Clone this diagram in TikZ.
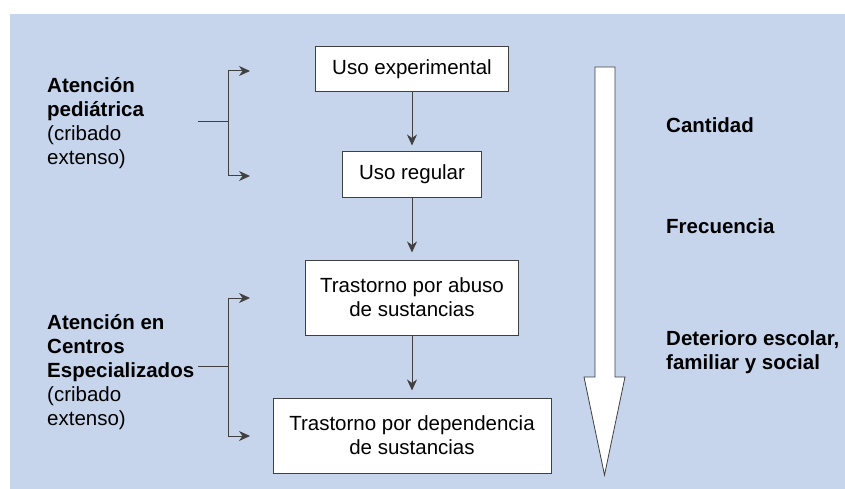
\documentclass[tikz,border=0pt]{standalone}
\usepackage{fontspec}
\setmainfont{Liberation Sans}
\usetikzlibrary{arrows.meta}
\definecolor{fondo}{HTML}{C6D4EC}
\definecolor{trazo}{HTML}{404040}

\begin{document}
\begin{tikzpicture}[x=1pt,y=-1pt]
\tikzstyle{caja}=[rectangle,draw=trazo,fill=white,line width=1pt,align=center,font=\fontsize{20.5}{24}\selectfont]
\tikzstyle{etiq}=[anchor=west,align=left,inner sep=0pt,font=\fontsize{20.5}{24}\selectfont]
\tikzstyle{flecha}=[draw=trazo,line width=1pt,-{Stealth[length=11pt,width=10pt,inset=3.5pt]}]
\useasboundingbox (0,0) rectangle (845,489);
\fill [fondo] (10,14) rectangle (845,489);
% etapas
\node [caja,minimum width=193pt,minimum height=45pt] (exp) at (412,69.5) {Uso experimental};
\node [caja,minimum width=139pt,minimum height=45pt] (reg) at (412,174.5) {Uso regular};
\node [caja,minimum width=213pt,minimum height=75pt] (abu) at (412,297.5) {Trastorno por abuso\\de sustancias};
\node [caja,minimum width=278pt,minimum height=75pt] (dep) at (412,435.5) {Trastorno por dependencia\\de sustancias};
\draw [flecha,shorten >=6pt] (exp) -- (reg);
\draw [flecha,shorten >=7pt] (reg) -- (abu);
\draw [flecha,shorten >=7pt] (abu) -- (dep);
% atencion
\node [etiq] (ped) at (47,123) {\textbf{Atención}\\\textbf{pediátrica}\\(cribado\\extenso)};
\node [etiq] (esp) at (47,372.5) {\textbf{Atención en}\\\textbf{Centros}\\\textbf{Especializados}\\(cribado\\extenso)};
\coordinate (b1) at (198,122);
\coordinate (v1) at (228,122);
\coordinate (t1a) at (250,71);
\coordinate (t1b) at (250,176);
\draw [trazo,line width=1pt] (b1) -- (v1);
\draw [flecha] (v1) |- (t1a);
\draw [flecha] (v1) |- (t1b);
\coordinate (b2) at (198,366);
\coordinate (v2) at (228,366);
\coordinate (t2a) at (250,298);
\coordinate (t2b) at (250,436);
\draw [trazo,line width=1pt] (b2) -- (v2);
\draw [flecha] (v2) |- (t2a);
\draw [flecha] (v2) |- (t2b);
% flecha grande
\draw [trazo,fill=white,line width=0.8pt] (595,67) -- (615,67) -- (615,377) -- (625,377) -- (604.5,475) -- (584,377) -- (595,377) -- cycle;
\node [etiq] (can) at (666,125) {\textbf{Cantidad}};
\node [etiq] (fre) at (666,226) {\textbf{Frecuencia}};
\node [etiq] (det) at (666,352.5) {\textbf{Deterioro escolar,}\\\textbf{familiar y social}};
\end{tikzpicture}
\end{document}
